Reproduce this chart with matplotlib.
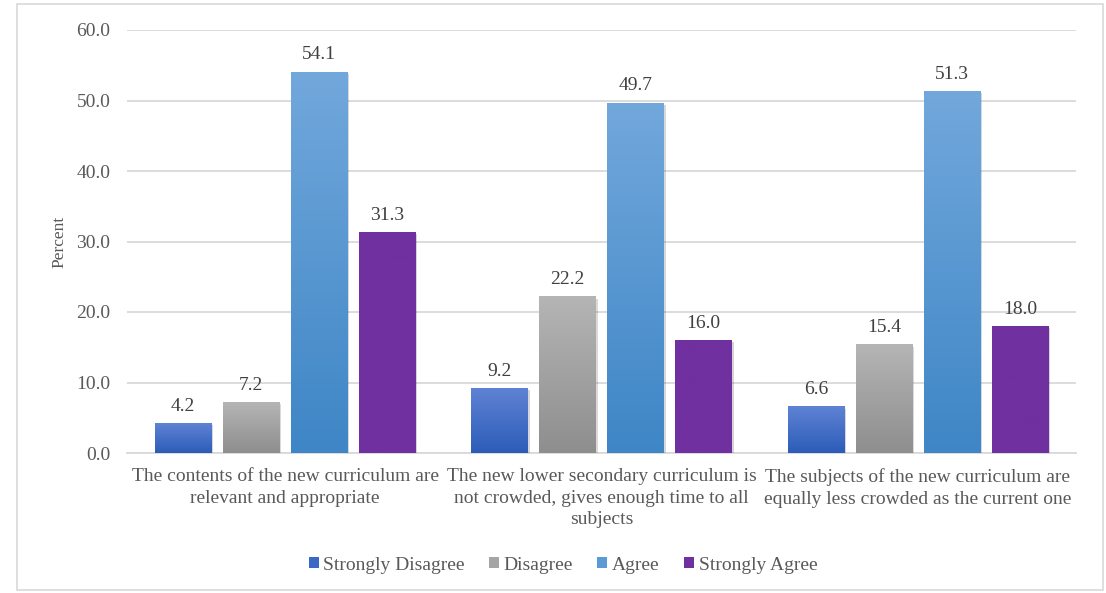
import numpy as np
import matplotlib
matplotlib.use("Agg")
import matplotlib.pyplot as plt
from matplotlib.patches import Rectangle, Patch
from matplotlib.colors import LinearSegmentedColormap
import matplotlib.patheffects as pe

plt.rcParams['font.family'] = ['Liberation Serif', 'DejaVu Serif']

# data
categories = [
    "The contents of the new curriculum are\nrelevant and appropriate",
    "The new lower secondary curriculum is\nnot crowded, gives enough time to all\nsubjects",
    "The subjects of the new curriculum are\nequally less crowded as the current one",
]
series = ["Strongly Disagree", "Disagree", "Agree", "Strongly Agree"]
strongly_disagree = [4.2, 9.2, 6.6]
disagree = [7.2, 22.2, 15.4]
agree = [54.1, 49.7, 51.3]
strongly_agree = [31.3, 16.0, 18.0]
values = [strongly_disagree, disagree, agree, strongly_agree]

# gradient (top, bottom) and legend colour per series
grad = [("#5f83d4", "#2c5cb8"), ("#b5b5b5", "#8e8e8e"),
        ("#72a8dc", "#3e86c6"), ("#7030a0", "#7030a0")]
legend_cols = ["#3b68c4", "#a5a5a5", "#5b9bd5", "#7030a0"]

fig = plt.figure(figsize=(11.06, 5.93), dpi=100)
fig.patches.append(Rectangle((17 / 1106, 1 - 590 / 593), 1086 / 1106, 586 / 593,
                             transform=fig.transFigure, fill=False,
                             edgecolor="#d9d9d9", linewidth=1.2))
ax = fig.add_axes([127 / 1106, 1 - 453 / 593, 949 / 1106, 423 / 593])

x = np.arange(len(categories))
width = 0.178
step = 0.215
offsets = (np.arange(4) - 1.5) * step

for i, s in enumerate(series):
    cmap = LinearSegmentedColormap.from_list(s, [grad[i][1], grad[i][0]])
    bars = ax.bar(x + offsets[i], values[i], width, color=legend_cols[i], zorder=3,
                  path_effects=[pe.SimplePatchShadow(offset=(1.5, -1.5), alpha=0.18),
                                pe.Normal()])
    for b, v in zip(bars, values[i]):
        x0 = b.get_x()
        g = np.linspace(0, 1, 256).reshape(-1, 1)
        im = ax.imshow(g, cmap=cmap, origin="lower", aspect="auto",
                       extent=[x0, x0 + width, 0, v], zorder=4)
        im.set_clip_path(b)
        ax.annotate(f"{v:.1f}", (x0 + width / 2, v), xytext=(0, 6),
                    textcoords="offset points", ha="center", va="bottom",
                    fontsize=14, color="#404040", zorder=5)

ax.set_xlim(-0.5, 2.5)
ax.set_ylim(0, 60)
ax.set_yticks(np.arange(0, 61, 10))
ax.set_yticklabels([f"{t:.1f}" for t in np.arange(0, 61, 10)])
ax.set_xticks(x)
ax.set_xticklabels(categories, fontsize=14, color="#595959", linespacing=1.35)
ax.tick_params(axis="y", length=0, pad=12, labelsize=14, labelcolor="#595959")
ax.tick_params(axis="x", length=0, pad=11)
ax.grid(axis="y", color="#d9d9d9", linewidth=1.3, zorder=0)
ax.set_axisbelow(True)
for sp in ["top", "right", "left"]:
    ax.spines[sp].set_visible(False)
ax.spines["bottom"].set_color("#d9d9d9")
ax.spines["bottom"].set_linewidth(1.3)
ax.set_ylabel("Percent", fontsize=12.5, color="#595959", labelpad=6)

handles = [Patch(facecolor=c, edgecolor="none") for c in legend_cols]
fig.legend(handles, series, loc="center", bbox_to_anchor=(563 / 1106, 1 - 565 / 593),
           ncol=4, frameon=False, fontsize=14, handlelength=0.5, handleheight=0.5,
           handletextpad=0.25, columnspacing=1.25, labelcolor="#595959")

fig.savefig("out.png", dpi=100)
